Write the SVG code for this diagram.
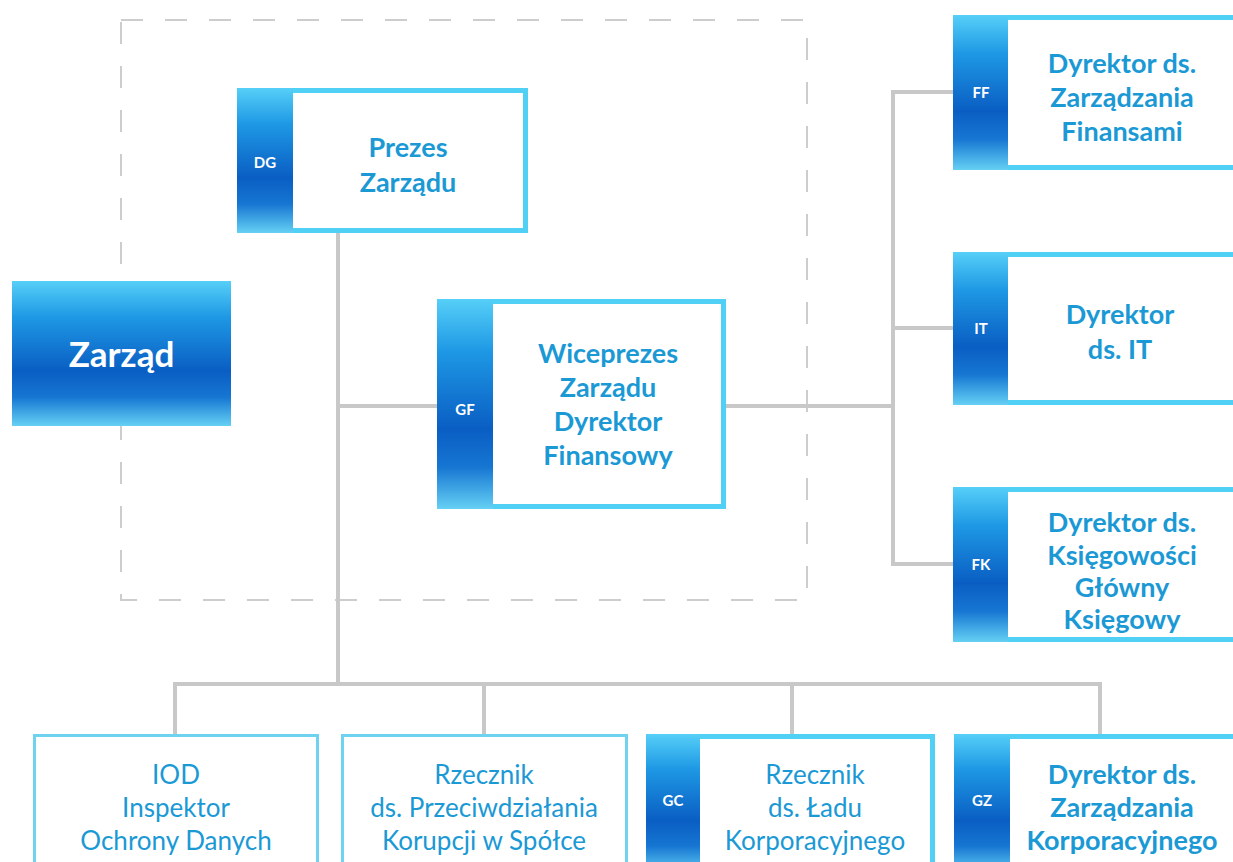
<svg xmlns="http://www.w3.org/2000/svg" width="1233" height="862" viewBox="0 0 1233 862">
<defs>
<linearGradient id="band" x1="0" y1="0" x2="0" y2="1">
<stop offset="0" stop-color="#56cff8"/>
<stop offset="0.25" stop-color="#1e98e4"/>
<stop offset="0.62" stop-color="#0a5ec3"/>
<stop offset="0.8" stop-color="#1676d2"/>
<stop offset="1" stop-color="#66d0f4"/>
</linearGradient>
<style>
.conn{stroke:#c8c8c8;stroke-width:4;fill:none}
.dash{stroke:#cdcdcd;stroke-width:2;fill:none;stroke-dasharray:22 22}
.frame{fill:#4fd0f4}
.inner{fill:#ffffff}
.thin{fill:#ffffff;stroke:#6fd3ef;stroke-width:3}
.t{font-family:Lato,"Open Sans","DejaVu Sans",sans-serif;fill:#1b99d5;text-anchor:middle}
.b{font-weight:bold;font-size:27px}
.r{font-weight:normal;font-size:26px}
.lab{font-family:Lato,"DejaVu Sans",sans-serif;font-weight:bold;font-size:15px;fill:#ffffff;text-anchor:middle}
</style>
</defs>
<rect width="1233" height="862" fill="#ffffff"/>
<rect class="dash" x="121" y="20" width="686" height="580"/>
<g id="connectors">
<line class="conn" x1="338" y1="233" x2="338" y2="686"/>
<line class="conn" x1="338" y1="406" x2="437" y2="406"/>
<line class="conn" x1="726" y1="406" x2="893" y2="406"/>
<line class="conn" x1="893" y1="91" x2="893" y2="566"/>
<line class="conn" x1="891" y1="92" x2="953" y2="92"/>
<line class="conn" x1="891" y1="328" x2="953" y2="328"/>
<line class="conn" x1="891" y1="564" x2="953" y2="564"/>
<line class="conn" x1="173" y1="684" x2="1102" y2="684"/>
<line class="conn" x1="175" y1="684" x2="175" y2="735"/>
<line class="conn" x1="484" y1="684" x2="484" y2="735"/>
<line class="conn" x1="792" y1="684" x2="792" y2="735"/>
<line class="conn" x1="1100" y1="684" x2="1100" y2="735"/>
</g>
<g id="zarzad">
<rect x="12" y="281" width="219" height="145" fill="url(#band)"/>
<text x="121.5" y="367" font-family="Lato,'DejaVu Sans',sans-serif" font-weight="bold" font-size="35" fill="#ffffff" text-anchor="middle">Zarząd</text>
</g>
<g id="node-dg">
<rect class="frame" x="237" y="88" width="291" height="145"/>
<rect class="inner" x="293" y="93" width="230" height="135"/>
<rect x="237" y="88" width="56" height="145" fill="url(#band)"/>
<text class="lab" x="265" y="168">DG</text>
<text class="t b" x="408" y="157">Prezes</text>
<text class="t b" x="408" y="192">Zarządu</text>
</g>
<g id="node-gf">
<rect class="frame" x="437" y="299" width="289" height="210"/>
<rect class="inner" x="493" y="304" width="228" height="200"/>
<rect x="437" y="299" width="56" height="210" fill="url(#band)"/>
<text class="lab" x="465" y="415">GF</text>
<text class="t b" x="608" y="363">Wiceprezes</text>
<text class="t b" x="608" y="397">Zarządu</text>
<text class="t b" x="608" y="431">Dyrektor</text>
<text class="t b" x="608" y="465">Finansowy</text>
</g>
<g id="node-ff">
<rect class="frame" x="953" y="15" width="285" height="155"/>
<rect class="inner" x="1008" y="20" width="230" height="145"/>
<rect x="953" y="15" width="55" height="155" fill="url(#band)"/>
<text class="lab" x="981" y="98">FF</text>
<text class="t b" x="1122" y="73">Dyrektor ds.</text>
<text class="t b" x="1122" y="107">Zarządzania</text>
<text class="t b" x="1122" y="141">Finansami</text>
</g>
<g id="node-it">
<rect class="frame" x="953" y="252" width="285" height="153"/>
<rect class="inner" x="1008" y="257" width="230" height="143"/>
<rect x="953" y="252" width="55" height="153" fill="url(#band)"/>
<text class="lab" x="981" y="334">IT</text>
<text class="t b" x="1120" y="324">Dyrektor</text>
<text class="t b" x="1120" y="359">ds. IT</text>
</g>
<g id="node-fk">
<rect class="frame" x="953" y="487" width="285" height="155"/>
<rect class="inner" x="1008" y="492" width="230" height="145"/>
<rect x="953" y="487" width="55" height="155" fill="url(#band)"/>
<text class="lab" x="981" y="570">FK</text>
<text class="t b" x="1122" y="532">Dyrektor ds.</text>
<text class="t b" x="1122" y="565">Księgowości</text>
<text class="t b" x="1122" y="597">Główny</text>
<text class="t b" x="1122" y="629">Księgowy</text>
</g>
<g id="node-iod">
<rect class="thin" x="34.5" y="735.5" width="283" height="140"/>
<text class="t r" x="176" y="784">IOD</text>
<text class="t r" x="176" y="817">Inspektor</text>
<text class="t r" x="176" y="850">Ochrony Danych</text>
</g>
<g id="node-rzecznik-k">
<rect class="thin" x="342.5" y="735.5" width="284" height="140"/>
<text class="t r" x="484" y="784">Rzecznik</text>
<text class="t r" x="484" y="817">ds. Przeciwdziałania</text>
<text class="t r" x="484" y="850">Korupcji w Spółce</text>
</g>
<g id="node-gc">
<rect class="frame" x="646" y="734" width="289" height="140"/>
<rect class="inner" x="700" y="739" width="230" height="135"/>
<rect x="646" y="734" width="54" height="140" fill="url(#band)"/>
<text class="lab" x="673" y="806">GC</text>
<text class="t r" x="815" y="784">Rzecznik</text>
<text class="t r" x="815" y="817">ds. Ładu</text>
<text class="t r" x="815" y="850">Korporacyjnego</text>
</g>
<g id="node-gz">
<rect class="frame" x="954" y="734" width="284" height="140"/>
<rect class="inner" x="1010" y="739" width="228" height="135"/>
<rect x="954" y="734" width="56" height="140" fill="url(#band)"/>
<text class="lab" x="982" y="806">GZ</text>
<text class="t b" x="1122" y="784">Dyrektor ds.</text>
<text class="t b" x="1122" y="817">Zarządzania</text>
<text class="t b" x="1122" y="850">Korporacyjnego</text>
</g>
</svg>
